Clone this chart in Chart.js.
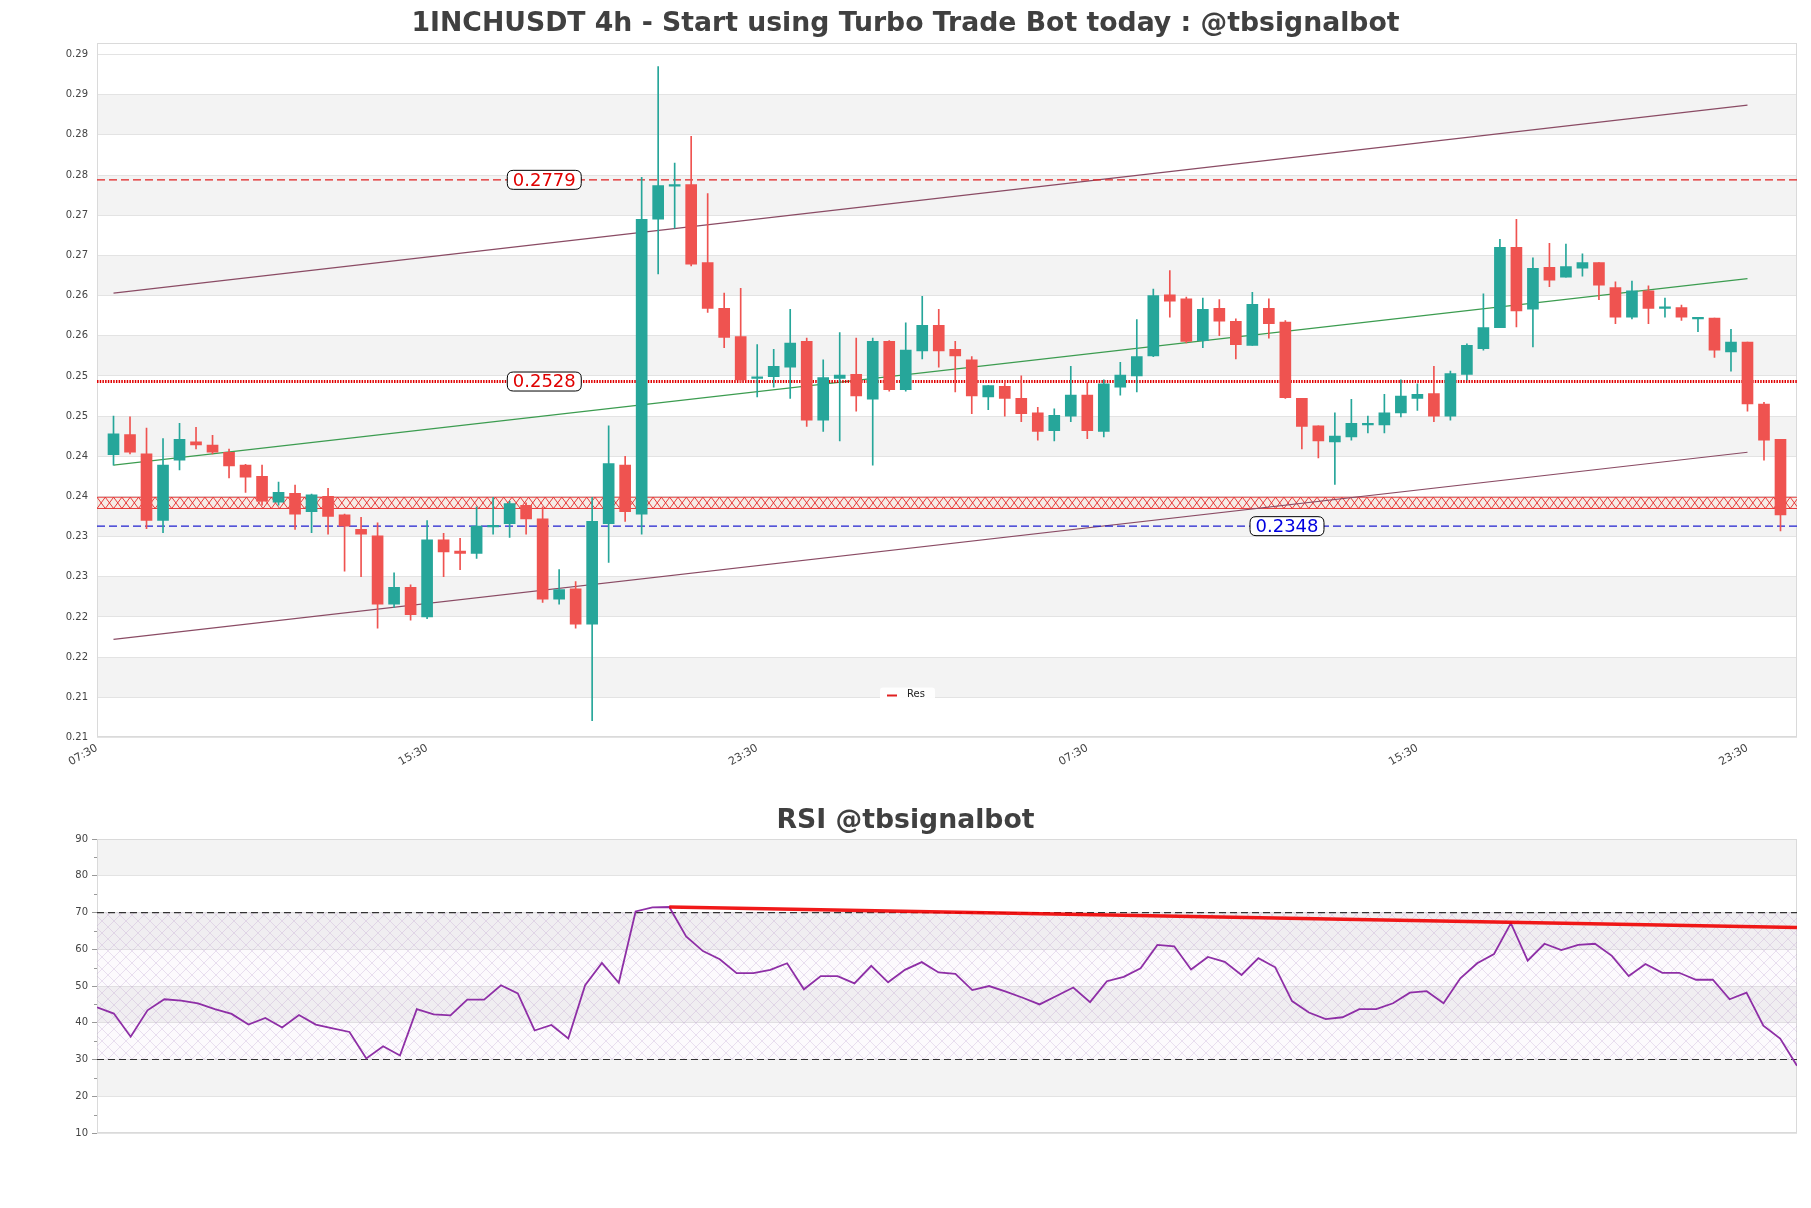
<!DOCTYPE html>
<html><head><meta charset="utf-8">
<script src="https://cdn.jsdelivr.net/npm/chart.js@4.4.1/dist/chart.umd.min.js"></script>
<style>
html,body{margin:0;padding:0;background:#fff;}
#wrap{position:relative;width:1811px;height:1208px;background:#fff;}
#c1{position:absolute;left:0;top:0;}
#c2{position:absolute;left:0;top:795px;}
</style></head><body>
<div id="wrap"><canvas id="c1" width="1811" height="790"></canvas><canvas id="c2" width="1811" height="413"></canvas></div>
<script>
// ---------- DATA ----------
const candleOpen = [0.2437,0.2462,0.2438,0.2355,0.2430,0.2453,0.2449,0.2440,0.2424,0.2410,0.2378,0.2389,0.2366,0.2385,0.2362,0.2344,0.2336,0.2251,0.2272,0.2235,0.2331,0.2317,0.2314,0.2347,0.2351,0.2374,0.2357,0.2257,0.2270,0.2226,0.2351,0.2424,0.2363,0.2730,0.2771,0.2773,0.2676,0.2619,0.2584,0.2532,0.2534,0.2546,0.2578,0.2480,0.2532,0.2537,0.2506,0.2578,0.2518,0.2566,0.2598,0.2568,0.2555,0.2509,0.2522,0.2507,0.2489,0.2467,0.2485,0.2511,0.2466,0.2521,0.2535,0.2560,0.2636,0.2631,0.2579,0.2619,0.2603,0.2573,0.2619,0.2602,0.2507,0.2473,0.2453,0.2459,0.2474,0.2474,0.2489,0.2507,0.2513,0.2485,0.2537,0.2569,0.2595,0.2695,0.2618,0.2670,0.2658,0.2669,0.2676,0.2645,0.2608,0.2641,0.2619,0.2620,0.2606,0.2607,0.2565,0.2577,0.2500,0.2456];
const candleHigh = [0.2485,0.2484,0.2470,0.2457,0.2476,0.2471,0.2461,0.2444,0.2425,0.2424,0.2403,0.2399,0.2388,0.2395,0.2363,0.2359,0.2352,0.2290,0.2275,0.2355,0.2339,0.2333,0.2372,0.2384,0.2379,0.2377,0.2372,0.2294,0.2279,0.2384,0.2473,0.2435,0.2782,0.2920,0.2800,0.2833,0.2762,0.2638,0.2644,0.2574,0.2568,0.2618,0.2582,0.2555,0.2589,0.2582,0.2582,0.2579,0.2601,0.2634,0.2618,0.2578,0.2559,0.2523,0.2529,0.2535,0.2496,0.2494,0.2547,0.2527,0.2530,0.2552,0.2605,0.2643,0.2666,0.2633,0.2632,0.2630,0.2606,0.2639,0.2631,0.2604,0.2507,0.2473,0.2489,0.2506,0.2485,0.2512,0.2530,0.2525,0.2547,0.2541,0.2575,0.2637,0.2705,0.2730,0.2682,0.2700,0.2699,0.2687,0.2676,0.2652,0.2653,0.2647,0.2632,0.2623,0.2608,0.2607,0.2593,0.2577,0.2502,0.2456];
const candleLow = [0.2424,0.2438,0.2345,0.2340,0.2418,0.2444,0.2438,0.2408,0.2390,0.2374,0.2374,0.2344,0.2340,0.2338,0.2292,0.2285,0.2221,0.2247,0.2231,0.2233,0.2285,0.2294,0.2308,0.2338,0.2334,0.2338,0.2253,0.2251,0.2221,0.2106,0.2303,0.2354,0.2338,0.2662,0.2719,0.2672,0.2614,0.2570,0.2527,0.2509,0.2521,0.2507,0.2472,0.2466,0.2454,0.2491,0.2424,0.2516,0.2516,0.2556,0.2546,0.2515,0.2488,0.2493,0.2485,0.2478,0.2455,0.2454,0.2478,0.2457,0.2459,0.2511,0.2515,0.2559,0.2608,0.2576,0.2570,0.2585,0.2556,0.2573,0.2582,0.2507,0.2444,0.2433,0.2400,0.2455,0.2464,0.2464,0.2484,0.2492,0.2478,0.2480,0.2530,0.2567,0.2595,0.2596,0.2571,0.2646,0.2658,0.2659,0.2630,0.2600,0.2606,0.2600,0.2608,0.2604,0.2590,0.2558,0.2541,0.2491,0.2430,0.2342];
const candleClose = [0.2463,0.2440,0.2355,0.2424,0.2456,0.2449,0.2440,0.2423,0.2409,0.2379,0.2390,0.2363,0.2387,0.2360,0.2348,0.2338,0.2251,0.2272,0.2238,0.2331,0.2316,0.2314,0.2348,0.2349,0.2376,0.2357,0.2257,0.2269,0.2226,0.2354,0.2426,0.2366,0.2730,0.2772,0.2773,0.2674,0.2619,0.2583,0.2530,0.2534,0.2547,0.2576,0.2480,0.2533,0.2536,0.2510,0.2578,0.2518,0.2567,0.2598,0.2566,0.2560,0.2510,0.2523,0.2507,0.2488,0.2466,0.2486,0.2511,0.2467,0.2525,0.2536,0.2559,0.2635,0.2628,0.2578,0.2618,0.2603,0.2574,0.2624,0.2600,0.2508,0.2472,0.2454,0.2460,0.2476,0.2476,0.2489,0.2510,0.2512,0.2485,0.2538,0.2573,0.2595,0.2695,0.2616,0.2669,0.2654,0.2671,0.2676,0.2648,0.2608,0.2641,0.2619,0.2621,0.2608,0.2608,0.2567,0.2577,0.2500,0.2455,0.2362];
const rsiValues = [44.2,42.5,36.2,43.4,46.4,46.0,45.3,43.7,42.4,39.5,41.3,38.7,42.1,39.5,38.5,37.5,30.3,33.6,31.1,43.7,42.3,42.0,46.3,46.3,50.2,48.0,37.9,39.4,35.7,50.2,56.3,50.9,70.3,71.4,71.5,63.5,59.5,57.3,53.5,53.5,54.4,56.2,49.1,52.7,52.7,50.7,55.5,51.0,54.4,56.5,53.7,53.3,48.9,50.0,48.5,46.8,45.0,47.3,49.6,45.6,51.3,52.5,54.8,61.2,60.8,54.5,57.9,56.6,53.0,57.6,55.1,45.9,42.8,41.0,41.5,43.7,43.7,45.3,48.2,48.6,45.3,52.1,56.2,58.7,67.1,56.9,61.5,59.8,61.2,61.5,58.2,52.7,56.0,53.6,53.6,51.7,51.7,46.4,48.2,39.2,35.7,28.3];
const xTickIndex = [-1,19,39,59,79,99];
const xTickLabels = ['07:30','15:30','23:30','07:30','15:30','23:30'];
const priceTickValues = [0.2085,0.2135,0.2185,0.2235,0.2285,0.2335,0.2385,0.2435,0.2485,0.2535,0.2585,0.2635,0.2685,0.2735,0.2785,0.2835,0.2885,0.2935];
const levelValues = [0.2779, 0.2528, 0.2348];
const levelText = ['0.2779', '0.2528', '0.2348'];
const zoneBounds = [0.2370, 0.2384];
const channelX = [0, 99];
const channelUpper = [0.2638, 0.2872];
const channelMid = [0.2424, 0.2656];
const channelLower = [0.2207, 0.2440];
const rsiTrendX = [34, 101];
const rsiTrendY = [71.5, 65.9];
const rsiLevels = [70, 30];

// ---------- STYLE ----------
const UP = '#26a69a', DOWN = '#ef5350';
const FONT = "'DejaVu Sans', sans-serif";
const TITLE_FONT = "'DejaVu Sans', sans-serif";
const N = candleOpen.length;
const idx = Array.from({length: N}, (_, i) => i);
const candleColor = idx.map(i => candleClose[i] >= candleOpen[i] ? UP : DOWN);

const bandPlugin = {
  id: 'bands',
  beforeDraw(chart) {
    const {ctx, chartArea: a, scales: {y}} = chart;
    const t = y.ticks;
    ctx.save();
    ctx.fillStyle = '#f3f3f3';
    for (let k = 1; k < t.length - 1; k += 2) {
      const y1 = y.getPixelForValue(t[k].value), y2 = y.getPixelForValue(t[k + 1].value);
      ctx.fillRect(a.left, Math.min(y1, y2), a.right - a.left, Math.abs(y2 - y1));
    }
    ctx.restore();
  }
};
const borderPlugin = {
  id: 'frame',
  beforeDatasetsDraw(chart) {
    const {ctx, chartArea: a} = chart;
    ctx.save();
    ctx.strokeStyle = '#dadada';
    ctx.lineWidth = 1;
    ctx.strokeRect(Math.round(a.left) + 0.5, Math.round(a.top) + 0.5, Math.round(a.right - a.left) - 1, Math.round(a.bottom - a.top) - 1);
    ctx.restore();
  }
};
const zonePlugin = {
  id: 'zone',
  beforeDatasetsDraw(chart) {
    const {ctx, chartArea: a, scales: {y}} = chart;
    const top = y.getPixelForValue(zoneBounds[1]), bot = y.getPixelForValue(zoneBounds[0]);
    ctx.save();
    ctx.fillStyle = 'rgba(255,215,190,0.25)';
    ctx.fillRect(a.left, top, a.right - a.left, bot - top);
    ctx.beginPath();
    ctx.rect(a.left, top - 1, a.right - a.left, bot - top + 2);
    ctx.clip();
    ctx.strokeStyle = 'rgba(230,40,40,0.9)';
    ctx.lineWidth = 1;
    ctx.beginPath();
    const w = 8.3;
    for (let x = a.left; x < a.right; x += w) {
      ctx.moveTo(x, top); ctx.lineTo(x + w, bot);
      ctx.moveTo(x + w, top); ctx.lineTo(x, bot);
    }
    ctx.stroke();
    ctx.beginPath();
    ctx.moveTo(a.left, top); ctx.lineTo(a.right, top);
    ctx.moveTo(a.left, bot); ctx.lineTo(a.right, bot);
    ctx.stroke();
    ctx.restore();
  }
};
function roundRect(ctx, x, y, w, h, r) {
  ctx.beginPath();
  ctx.moveTo(x + r, y);
  ctx.lineTo(x + w - r, y); ctx.quadraticCurveTo(x + w, y, x + w, y + r);
  ctx.lineTo(x + w, y + h - r); ctx.quadraticCurveTo(x + w, y + h, x + w - r, y + h);
  ctx.lineTo(x + r, y + h); ctx.quadraticCurveTo(x, y + h, x, y + h - r);
  ctx.lineTo(x, y + r); ctx.quadraticCurveTo(x, y, x + r, y);
  ctx.closePath();
}
const levelLabelX = [26.1, 26.1, 71.1];
const levelLabelColor = ['#e00000', '#e00000', '#0000e0'];
const levelLabelPlugin = {
  id: 'levelLabels',
  afterDatasetsDraw(chart) {
    const {ctx, scales: {x, y}} = chart;
    ctx.save();
    ctx.font = "18px " + FONT;
    ctx.textAlign = 'center';
    ctx.textBaseline = 'middle';
    levelValues.forEach((v, k) => {
      const px = x.getPixelForValue(levelLabelX[k]), py = y.getPixelForValue(v);
      const tw = ctx.measureText(levelText[k]).width;
      const bw = tw + 11, bh = 19;
      roundRect(ctx, px - bw / 2, py - bh / 2, bw, bh, 6);
      ctx.fillStyle = '#fff'; ctx.fill();
      ctx.strokeStyle = '#000'; ctx.lineWidth = 1; ctx.stroke();
      ctx.fillStyle = levelLabelColor[k];
      ctx.fillText(levelText[k], px, py + 1);
    });
    ctx.restore();
  }
};
const legendPlugin = {
  id: 'resLegend',
  afterDraw(chart) {
    const {ctx, chartArea: a} = chart;
    const lx = a.left + 783, ly = a.bottom - 43;
    ctx.save();
    ctx.fillStyle = 'rgba(255,255,255,0.9)';
    roundRect(ctx, lx, ly - 7, 55, 14, 3); ctx.fill();
    ctx.strokeStyle = '#e02020'; ctx.lineWidth = 2;
    ctx.beginPath(); ctx.moveTo(lx + 7, ly + 1); ctx.lineTo(lx + 17, ly + 1); ctx.stroke();
    ctx.fillStyle = '#222'; ctx.font = "10px " + FONT; ctx.textBaseline = 'middle';
    ctx.fillText('Res', lx + 27, ly);
    ctx.restore();
  }
};

const hLine = (v, x0, x1) => [{x: x0, y: v}, {x: x1, y: v}];
const seg = (xs, ys) => [{x: xs[0], y: ys[0]}, {x: xs[1], y: ys[1]}];
// an empty right-hand axis keeps a 14px margin on the right, so the title stays centred on the whole page
const rightSpacer = {position: 'right', display: true, grid: {drawOnChartArea: false, drawTicks: false}, border: {display: false}, ticks: {display: false}, afterFit: s => { s.width = 14; }};

new Chart(document.getElementById('c1'), {
  type: 'bar',
  data: {
    datasets: [
      {label: 'body', type: 'bar', data: idx.map(i => ({x: i, y: [candleOpen[i], candleClose[i]]})), backgroundColor: candleColor, borderWidth: 0, barThickness: 11, grouped: false, order: 1, minBarLength: 1},
      {label: 'wick', type: 'bar', data: idx.map(i => ({x: i, y: [candleLow[i], candleHigh[i]]})), backgroundColor: candleColor, borderWidth: 0, barThickness: 1, grouped: false, order: 2},
      {label: 'upper', type: 'line', data: seg(channelX, channelUpper), borderColor: '#8a4b64', borderWidth: 1.2, pointRadius: 0, order: 4},
      {label: 'mid', type: 'line', data: seg(channelX, channelMid), borderColor: '#3c9c50', borderWidth: 1.2, pointRadius: 0, order: 4},
      {label: 'lower', type: 'line', data: seg(channelX, channelLower), borderColor: '#8a4b64', borderWidth: 1.2, pointRadius: 0, order: 4},
      {label: 'Res', type: 'line', data: hLine(levelValues[0], -1, 102), borderColor: '#e02020', borderWidth: 1.2, borderDash: [8, 4], pointRadius: 0, order: 3},
      {label: 'lvl2', type: 'line', data: hLine(levelValues[1], -1, 102), borderColor: '#e00000', borderWidth: 3, borderDash: [1.5, 1.2], pointRadius: 0, order: 3},
      {label: 'lvl3', type: 'line', data: hLine(levelValues[2], -1, 102), borderColor: '#2020d0', borderWidth: 1.2, borderDash: [8, 4], pointRadius: 0, order: 3}
    ]
  },
  options: {
    responsive: false, animation: false, devicePixelRatio: 1,
    layout: {padding: {left: 0, right: 0, top: 0, bottom: 0}},
    plugins: {
      legend: {display: false}, tooltip: {enabled: false},
      title: {display: true, text: '1INCHUSDT 4h - Start using Turbo Trade Bot today : @tbsignalbot', color: '#404040', font: {family: TITLE_FONT, size: 26.7, weight: 'bold'}, padding: {top: 8.3, bottom: 2.9}}
    },
    scales: {
      x: {
        type: 'linear', min: -1, max: 102, offset: false, bounds: 'data',
        grid: {display: false, drawTicks: false}, border: {display: false},
        afterBuildTicks: s => { s.ticks = xTickIndex.map(v => ({value: v})); },
        afterFit: s => { s.height = 52.5; },
        ticks: {autoSkip: false, minRotation: 30, maxRotation: 30, padding: 4, color: '#444', font: {family: FONT, size: 11},
          callback: v => { const k = xTickIndex.indexOf(v); return k >= 0 ? xTickLabels[k] : ''; }}
      },
      y: {
        type: 'linear', min: 0.2085, max: 0.2949, bounds: 'data',
        grid: {color: '#e3e3e3', drawTicks: false}, border: {display: false},
        afterBuildTicks: s => { s.ticks = priceTickValues.map(v => ({value: v})); },
        afterFit: s => { s.width = 97; },
        ticks: {padding: 9, color: '#444', font: {family: FONT, size: 10}, callback: v => Number(v).toFixed(2)}
      },
      yRight: rightSpacer
    }
  },
  plugins: [bandPlugin, borderPlugin, zonePlugin, levelLabelPlugin, legendPlugin]
});

// ---------- RSI ----------
function hatchPattern(ctx) {
  const c = document.createElement('canvas');
  c.width = 12; c.height = 12;
  const g = c.getContext('2d');
  g.strokeStyle = 'rgba(175,140,200,0.32)';
  g.lineWidth = 0.8;
  g.beginPath();
  g.moveTo(0, 0); g.lineTo(12, 12);
  g.moveTo(12, 0); g.lineTo(0, 12);
  g.stroke();
  return ctx.createPattern(c, 'repeat');
}
const rsiHatchPlugin = {
  id: 'rsiHatch',
  beforeDatasetsDraw(chart) {
    const {ctx, chartArea: a, scales: {y}} = chart;
    const t = y.getPixelForValue(rsiLevels[0]), b = y.getPixelForValue(rsiLevels[1]);
    ctx.save();
    ctx.fillStyle = 'rgba(200,170,220,0.06)';
    ctx.fillRect(a.left, t, a.right - a.left, b - t);
    ctx.fillStyle = hatchPattern(ctx);
    ctx.fillRect(a.left, t, a.right - a.left, b - t);
    ctx.restore();
  }
};
const minorTickPlugin = {
  id: 'minorTicks',
  afterDraw(chart) {
    const {ctx, chartArea: a, scales: {y}} = chart;
    ctx.save();
    ctx.strokeStyle = '#999'; ctx.lineWidth = 1;
    ctx.beginPath();
    for (let v = 15; v < 90; v += 10) {
      const py = Math.round(y.getPixelForValue(v)) + 0.5;
      ctx.moveTo(a.left - 3, py); ctx.lineTo(a.left, py);
    }
    ctx.stroke();
    ctx.restore();
  }
};

new Chart(document.getElementById('c2'), {
  type: 'line',
  data: {
    datasets: [
      {label: 'trend', data: seg(rsiTrendX, rsiTrendY), borderColor: 'rgba(240,0,0,0.9)', borderWidth: 3.5, pointRadius: 0, order: 0},
      {label: 'RSI', data: rsiValues.map((v, i) => ({x: i, y: v})), borderColor: '#8e2fa6', borderWidth: 1.8, pointRadius: 0, tension: 0, order: 1},
      {label: 'ob', data: hLine(rsiLevels[0], 0, 101), borderColor: '#333', borderWidth: 1.2, borderDash: [7, 4], pointRadius: 0, order: 2},
      {label: 'os', data: hLine(rsiLevels[1], 0, 101), borderColor: '#333', borderWidth: 1.2, borderDash: [7, 4], pointRadius: 0, order: 2}
    ]
  },
  options: {
    responsive: false, animation: false, devicePixelRatio: 1,
    layout: {padding: {left: 0, right: 0, top: 0, bottom: 75}},
    plugins: {
      legend: {display: false}, tooltip: {enabled: false},
      title: {display: true, text: 'RSI @tbsignalbot', color: '#404040', font: {family: TITLE_FONT, size: 26.7, weight: 'bold'}, padding: {top: 10.5, bottom: 1.5}}
    },
    scales: {
      x: {type: 'linear', min: 0, max: 101, display: false},
      y: {
        type: 'linear', min: 10, max: 90,
        grid: {color: '#e3e3e3', drawTicks: true, tickLength: 5, tickColor: '#999'}, border: {display: false},
        afterFit: s => { s.width = 97; },
        ticks: {stepSize: 10, padding: 4, color: '#444', font: {family: FONT, size: 10}}
      },
      yRight: rightSpacer
    }
  },
  plugins: [bandPlugin, borderPlugin, rsiHatchPlugin, minorTickPlugin]
});
</script>
</body></html>
